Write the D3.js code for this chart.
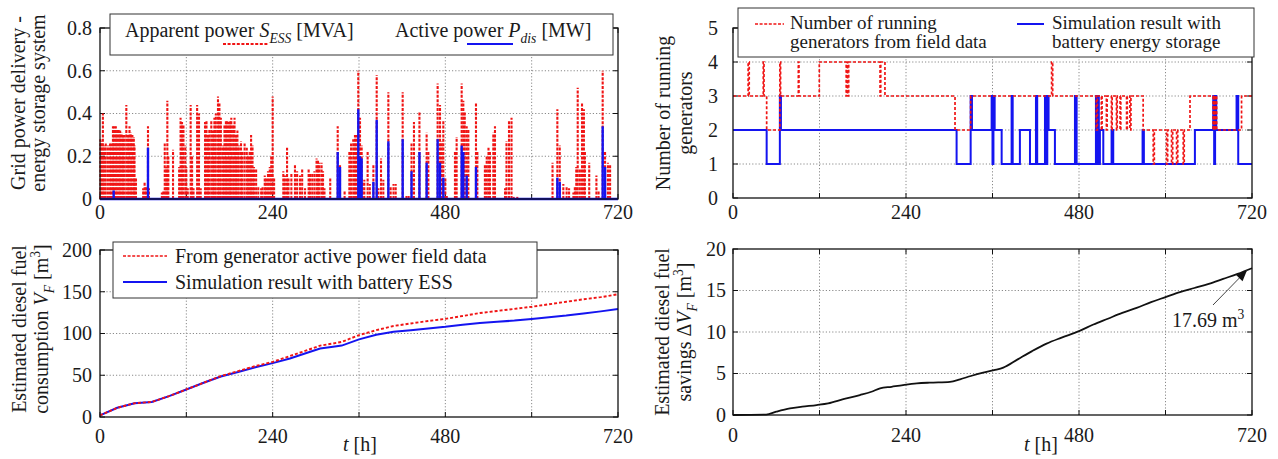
<!DOCTYPE html>
<html><head><meta charset="utf-8">
<script src="https://cdn.jsdelivr.net/npm/d3@7"></script>
<style>body{margin:0;background:#fff}svg{display:block}text{font-family:"Liberation Serif","Times New Roman",serif;fill:#1a1a1a}</style>
</head><body>
<svg id="c" width="1278" height="459"></svg>
<script>
// ---------- DATA ----------
const xTicks = [0,120,240,360,480,600,720];
const xTickLabels = [0,240,480,720];
const powerTicks = [0,0.2,0.4,0.6,0.8];
const genTicks = [0,1,2,3,4,5];
const fuelTicks = [0,50,100,150,200];
const saveTicks = [0,5,10,15,20];

// Apparent power S_ESS [MVA] spikes: [hour, value]
const sessData = [[0.5,0.28],[2,0.27],[4,0.40],[6,0.25],[8,0.26],[11,0.25],[14,0.26],[16,0.26],[18,0.34],[20,0.34],[22,0.34],[24,0.33],[26,0.33],[28,0.32],[30,0.31],[32,0.30],[34,0.30],[36.6,0.44],[39,0.30],[41,0.34],[43,0.31],[45,0.30],[47,0.29],[48,0.25],[50,0.10],[60,0.05],[62,0.08],[64,0.06],[66.7,0.34],[68,0.05],[86,0.03],[88,0.04],[90,0.26],[92,0.15],[93.6,0.46],[95,0.20],[101.5,0.23],[110,0.15],[112,0.38],[114,0.36],[116,0.35],[118.6,0.25],[120,0.15],[122,0.05],[126,0.44],[128,0.20],[130,0.05],[135,0.44],[137.6,0.40],[140,0.05],[146,0.36],[148,0.37],[150,0.30],[152,0.33],[154.7,0.37],[157,0.32],[159,0.38],[161,0.40],[164,0.48],[166,0.45],[168,0.38],[171,0.25],[173,0.35],[175,0.37],[177,0.37],[179,0.36],[181,0.37],[182.5,0.38],[185,0.35],[187,0.38],[189,0.30],[191,0.32],[193,0.25],[196,0.27],[198,0.22],[201,0.26],[204,0.24],[206,0.20],[208,0.22],[210,0.30],[212,0.25],[214,0.15],[217,0.14],[220,0.06],[224,0.05],[226,0.06],[229,0.11],[231,0.10],[233.5,0.13],[236,0.15],[238,0.20],[240,0.48],[242,0.10],[254.8,0.13],[257,0.11],[260,0.24],[262,0.10],[266,0.12],[271,0.16],[274,0.13],[278,0.11],[281,0.14],[285,0.05],[290,0.14],[292,0.12],[295,0.12],[298,0.13],[301,0.19],[303,0.18],[305,0.17],[308,0.17],[310,0.13],[312,0.05],[320,0.10],[330.4,0.34],[333.6,0.16],[340,0.04],[346.6,0.22],[349,0.26],[352,0.28],[354.4,0.30],[356.8,0.30],[359,0.60],[361.4,0.38],[363.7,0.25],[365,0.08],[367.4,0.09],[372,0.22],[375,0.07],[380,0.16],[384.6,0.58],[387,0.05],[390.6,0.19],[393.8,0.09],[400.8,0.50],[404,0.06],[408,0.07],[411,0.07],[420.7,0.50],[426,0.02],[429,0.02],[433,0.26],[436.4,0.36],[444,0.41],[454,0.31],[456.4,0.22],[469.3,0.54],[472.6,0.44],[475,0.27],[477.2,0.37],[480,0.10],[482,0.02],[493.4,0.22],[495.7,0.29],[502.7,0.54],[505,0.46],[507,0.41],[509.7,0.34],[512,0.33],[522.6,0.45],[524.5,0.22],[535,0.16],[537.5,0.20],[540,0.24],[542,0.22],[546.7,0.31],[549,0.34],[563,0.05],[565,0.27],[568.5,0.37],[572,0.38],[575,0.01],[580,0.01],[629,0.17],[635.7,0.42],[639,0.25],[644,0.07],[648.6,0.06],[652,0.05],[658,0.03],[660,0.06],[662,0.15],[664,0.52],[667,0.14],[670,0.45],[672.6,0.42],[674,0.22],[680,0.17],[690,0.11],[693,0.04],[698.7,0.60],[702,0.22],[706,0.17],[709,0.16]];
// Active power P_dis [MW] spikes: [hour, value]
const pdisData = [[19,0.04],[66.7,0.24],[330.4,0.22],[333.6,0.15],[359,0.42],[361.4,0.20],[363.7,0.19],[380,0.08],[384.6,0.37],[400.8,0.27],[420.7,0.28],[433,0.13],[444,0.22],[454,0.17],[469.3,0.28],[472.6,0.17],[477.2,0.10],[502.7,0.25],[505,0.22],[509.7,0.11],[522.6,0.15],[635.7,0.10],[639,0.08],[698.7,0.34],[702,0.15]];

// Number of running generators (step after): [hour, count]
const genField = [[0,3],[21,4],[22.5,3],[42,4],[43,3],[46.7,2],[65,4],[66,3],[90.6,4],[91.5,3],[119.7,4],[157,3],[158,4],[159,3],[160.5,4],[204,3],[205,4],[210.8,3],[308,2],[329.7,3],[442,4],[443.5,3],[504,2],[505.5,3],[511,2],[512,3],[518,2],[519,3],[525,2],[526,3],[532,2],[533,3],[537,2],[538,3],[546,2],[547,3],[550.6,2],[552,3],[569,2],[583,1],[584.5,2],[601.5,1],[603,2],[608.4,1],[610,2],[615.4,1],[617,2],[624.6,1],[626,2],[634,3],[666,2],[667,3],[668.5,2],[669.5,3],[671,2],[705.5,3],[720,3]];
const genSim = [[0,2],[46.7,1],[65,3],[66.5,2],[310.2,1],[329.7,3],[331.5,2],[358.8,3],[360,1],[361.3,3],[363,2],[372.7,1],[386.5,3],[388,1],[398,2],[412,1],[420.3,3],[422,1],[432.8,3],[434,1],[436,3],[437.8,2],[446.6,1],[474.4,3],[476.7,1],[503.5,3],[504.8,1],[506,3],[507.5,1],[509,2],[513.7,1],[525.2,2],[527.5,1],[568.2,2],[570,1],[640.8,2],[666.2,3],[667.5,1],[668.8,3],[670.4,2],[698.6,3],[700.9,1],[720,1]];

// Fuel consumption V_F [m3]
const fuelHours = [0,24,48,72,96,120,144,168,192,216,240,264,288,306,324,336,360,384,408,432,456,480,504,528,552,576,600,624,648,672,696,720];
const fuelField = [2,11,16.5,18,25,33,41,49,55,61,66,73,80,85.5,88,90,98,104,109,112,115,117.5,121,124.5,127,129.5,132,135,138,141,143.5,147];
const fuelSim   = [2,11,16.5,18,25,33,41,48.5,54,59.5,64.5,70,77,82,84,85.5,93,98.5,102,104,106,108,110.5,112.5,114,115.5,117.5,119.5,121.5,124,126.5,129.3];

// Fuel savings ΔV_F [m3]
const saveHours = [0,46,60,79,96,116,132,153,176,192,204,220,236,255,273,301,315,330,347,362,375,395,415,435,455,480,500,520,540,560,580,600,620,640,660,680,700,720];
const saveValues = [0,0.05,0.4,0.8,1.0,1.2,1.4,1.9,2.4,2.8,3.2,3.4,3.6,3.8,3.9,4.0,4.3,4.7,5.1,5.4,5.7,6.7,7.7,8.6,9.3,10.1,10.9,11.6,12.3,12.9,13.6,14.2,14.8,15.3,15.8,16.4,17.0,17.69];
const finalLabel = "17.69 m";

// ---------- DRAWING ----------
const svg = d3.select('#c');
const RED = '#f01414', BLUE = '#1414f0';
const FS = 20;

function rich(sel, parts, fs){
  let shift = 0;
  parts.forEach(p => {
    const ts = sel.append('tspan').text(p.t);
    const target = p.sub ? fs*0.3 : p.sup ? -fs*0.4 : 0;
    if (target - shift !== 0) ts.attr('dy', target - shift);
    shift = target;
    if (p.sub || p.sup) ts.attr('font-size', fs*0.68);
    if (p.i) ts.attr('font-style', 'italic');
  });
}

function panel(o){
  const x = d3.scaleLinear().domain([0,720]).range([o.x0,o.x1]);
  const y = d3.scaleLinear().domain(o.ydom).range([o.y0,o.y1]);
  const g = svg.append('g');
  g.selectAll('.vg').data(xTicks.slice(1,-1)).join('line')
    .attr('x1',d=>x(d)).attr('x2',d=>x(d)).attr('y1',o.y0).attr('y2',o.y1)
    .attr('stroke','#8a8a8a').attr('stroke-width',1).attr('stroke-dasharray','1.2,2');
  g.selectAll('.hg').data(o.yticks.slice(1,-1)).join('line')
    .attr('x1',o.x0).attr('x2',o.x1).attr('y1',d=>y(d)).attr('y2',d=>y(d))
    .attr('stroke','#8a8a8a').attr('stroke-width',1).attr('stroke-dasharray','1.2,2');
  const tl = 5;
  xTicks.forEach(t=>{
    g.append('line').attr('x1',x(t)).attr('x2',x(t)).attr('y1',o.y0).attr('y2',o.y0-tl).attr('stroke','#111');
    g.append('line').attr('x1',x(t)).attr('x2',x(t)).attr('y1',o.y1).attr('y2',o.y1+tl).attr('stroke','#111');
  });
  o.yticks.forEach(t=>{
    g.append('line').attr('x1',o.x0).attr('x2',o.x0+tl).attr('y1',y(t)).attr('y2',y(t)).attr('stroke','#111');
    g.append('line').attr('x1',o.x1).attr('x2',o.x1-tl).attr('y1',y(t)).attr('y2',y(t)).attr('stroke','#111');
  });
  g.selectAll('.xl').data(xTickLabels).join('text')
    .attr('x',d=>x(d)).attr('y',o.y0+o.xlOff).attr('text-anchor','middle').attr('font-size',FS).text(d=>d);
  g.selectAll('.yl').data(o.yticks).join('text')
    .attr('x',o.x0-o.ylGap).attr('y',d=>y(d)).attr('dy','0.34em').attr('text-anchor','end').attr('font-size',FS)
    .text(o.fmt);
  const plot = svg.append('g');
  const frame = svg.append('g');
  frame.append('rect').attr('x',o.x0).attr('y',o.y1).attr('width',o.x1-o.x0).attr('height',o.y0-o.y1)
    .attr('fill','none').attr('stroke','#111').attr('stroke-width',1.3);
  o.ylab.forEach((parts,i)=>{
    const t = svg.append('text').attr('font-size',FS).attr('text-anchor','middle')
      .attr('transform',`translate(${o.ylabX[i]},${o.ylabY}) rotate(-90)`);
    rich(t, parts, FS);
  });
  return {x,y,plot,frame};
}

// ----- Top-left -----
const p1 = panel({x0:100,x1:618,y0:199,y1:28,ydom:[0,0.8],yticks:powerTicks,fmt:d=>d===0?'0':d3.format('.1f')(d),
  xlOff:20,ylGap:8,ylabX:[25,45],ylabY:103,
  ylab:[[{t:'Grid power delivery -'}],[{t:'energy storage system'}]]});
p1.plot.selectAll('.s').data(sessData).join('line')
  .attr('x1',d=>p1.x(d[0])).attr('x2',d=>p1.x(d[0])).attr('y1',p1.y(0)).attr('y2',d=>p1.y(d[1]))
  .attr('stroke',RED).attr('stroke-width',2.1).attr('stroke-dasharray','3,1.4');
p1.plot.selectAll('.p').data(pdisData).join('line')
  .attr('x1',d=>p1.x(d[0])).attr('x2',d=>p1.x(d[0])).attr('y1',p1.y(0)).attr('y2',d=>p1.y(d[1]))
  .attr('stroke',BLUE).attr('stroke-width',2.4);
p1.plot.append('line').attr('x1',p1.x(0)).attr('x2',p1.x(720)).attr('y1',p1.y(0)).attr('y2',p1.y(0))
  .attr('stroke',BLUE).attr('stroke-width',2.5);
{
  const L = svg.append('g');
  L.append('rect').attr('x',110).attr('y',14).attr('width',503).attr('height',41).attr('fill','#fff').attr('stroke','#333').attr('stroke-width',1);
  const t1 = L.append('text').attr('x',125).attr('y',37).attr('font-size',FS);
  rich(t1,[{t:'Apparent power '},{t:'S',i:true},{t:'ESS',i:true,sub:true},{t:' [MVA]'}],FS);
  const t2 = L.append('text').attr('x',395).attr('y',37).attr('font-size',FS);
  rich(t2,[{t:'Active power '},{t:'P',i:true},{t:'dis',i:true,sub:true},{t:' [MW]'}],FS);
  L.append('line').attr('x1',223).attr('x2',268).attr('y1',44).attr('y2',44).attr('stroke',RED).attr('stroke-width',1.8).attr('stroke-dasharray','3,1.6');
  L.append('line').attr('x1',467).attr('x2',513).attr('y1',44).attr('y2',44).attr('stroke',BLUE).attr('stroke-width',2.2);
}

// ----- Top-right -----
const p2 = panel({x0:733,x1:1252,y0:198,y1:28,ydom:[0,5],yticks:genTicks,fmt:d=>d,
  xlOff:21,ylGap:15,ylabX:[670,692],ylabY:113,
  ylab:[[{t:'Number of running'}],[{t:'generators'}]]});
const stepLine = d3.line().x(d=>p2.x(d[0])).y(d=>p2.y(d[1])).curve(d3.curveStepAfter);
p2.plot.append('path').attr('d',stepLine(genSim)).attr('fill','none').attr('stroke',BLUE).attr('stroke-width',2);
p2.plot.append('path').attr('d',stepLine(genField)).attr('fill','none').attr('stroke',RED).attr('stroke-width',1.7).attr('stroke-dasharray','3,2');
{
  const L = svg.append('g');
  const LF = 19;
  L.append('rect').attr('x',738).attr('y',8).attr('width',516).attr('height',49).attr('fill','#fff').attr('stroke','#333').attr('stroke-width',1);
  L.append('line').attr('x1',755).attr('x2',784).attr('y1',24).attr('y2',24).attr('stroke',RED).attr('stroke-width',1.7).attr('stroke-dasharray','3,1.6');
  L.append('text').attr('x',790).attr('y',29).attr('font-size',LF).text('Number of running');
  L.append('text').attr('x',790).attr('y',48).attr('font-size',LF).text('generators from field data');
  L.append('line').attr('x1',1017).attr('x2',1044).attr('y1',24).attr('y2',24).attr('stroke',BLUE).attr('stroke-width',2);
  L.append('text').attr('x',1052).attr('y',29).attr('font-size',LF).text('Simulation result with');
  L.append('text').attr('x',1052).attr('y',48).attr('font-size',LF).text('battery energy storage');
}

// ----- Bottom-left -----
const p3 = panel({x0:100,x1:618,y0:417,y1:250,ydom:[0,200],yticks:fuelTicks,fmt:d=>d,
  xlOff:26,ylGap:8,ylabX:[26,48],ylabY:329,
  ylab:[[{t:'Estimated diesel fuel'}],[{t:'consumption '},{t:'V',i:true},{t:'F',i:true,sub:true},{t:' [m'},{t:'3',sup:true},{t:']'}]]});
const fl = (vals)=> d3.line().x((d,i)=>p3.x(fuelHours[i])).y(d=>p3.y(d))(vals);
p3.plot.append('path').attr('d',fl(fuelSim)).attr('fill','none').attr('stroke',BLUE).attr('stroke-width',2);
p3.plot.append('path').attr('d',fl(fuelField)).attr('fill','none').attr('stroke',RED).attr('stroke-width',1.9).attr('stroke-dasharray','3,2');
{
  const L = svg.append('g');
  L.append('rect').attr('x',113).attr('y',242).attr('width',424).attr('height',56).attr('fill','#fff').attr('stroke','#333').attr('stroke-width',1);
  L.append('line').attr('x1',123).attr('x2',167).attr('y1',256).attr('y2',256).attr('stroke',RED).attr('stroke-width',1.7).attr('stroke-dasharray','3,1.6');
  L.append('text').attr('x',175).attr('y',263).attr('font-size',FS).text('From generator active power field data');
  L.append('line').attr('x1',123).attr('x2',167).attr('y1',282).attr('y2',282).attr('stroke',BLUE).attr('stroke-width',2);
  L.append('text').attr('x',175).attr('y',289).attr('font-size',FS).text('Simulation result with battery ESS');
}
{
  const t = svg.append('text').attr('x',343).attr('y',451).attr('font-size',FS);
  rich(t,[{t:'t',i:true},{t:' [h]'}],FS);
}

// ----- Bottom-right -----
const p4 = panel({x0:733,x1:1252,y0:415,y1:249,ydom:[0,20],yticks:saveTicks,fmt:d=>d,
  xlOff:27,ylGap:7,ylabX:[669,691],ylabY:332,
  ylab:[[{t:'Estimated diesel fuel'}],[{t:'savings Δ'},{t:'V',i:true},{t:'F',i:true,sub:true},{t:' [m'},{t:'3',sup:true},{t:']'}]]});
p4.plot.append('path').attr('d',d3.line().x((d,i)=>p4.x(saveHours[i])).y(d=>p4.y(d)).curve(d3.curveMonotoneX)(saveValues))
  .attr('fill','none').attr('stroke','#111').attr('stroke-width',1.8);
{
  const t = svg.append('text').attr('x',1024).attr('y',451).attr('font-size',FS);
  rich(t,[{t:'t',i:true},{t:' [h]'}],FS);
  const last = [saveHours[saveHours.length-1], saveValues[saveValues.length-1]];
  const tx = p4.x(last[0])-5, ty = p4.y(last[1])+2;
  const sx = 1213, sy = 305;
  svg.append('line').attr('x1',sx).attr('y1',sy).attr('x2',tx).attr('y2',ty).attr('stroke','#444').attr('stroke-width',1);
  const ang = Math.atan2(ty-sy, tx-sx);
  const hl = 11, hw = 4.5;
  const bx = tx - hl*Math.cos(ang), by = ty - hl*Math.sin(ang);
  svg.append('path').attr('d',`M${tx},${ty}L${bx - hw*Math.sin(ang)},${by + hw*Math.cos(ang)}L${bx + hw*Math.sin(ang)},${by - hw*Math.cos(ang)}Z`).attr('fill','#111');
  const a = svg.append('text').attr('x',1172).attr('y',327).attr('font-size',FS);
  rich(a,[{t:finalLabel},{t:'3',sup:true}],FS);
}
</script>
</body></html>
